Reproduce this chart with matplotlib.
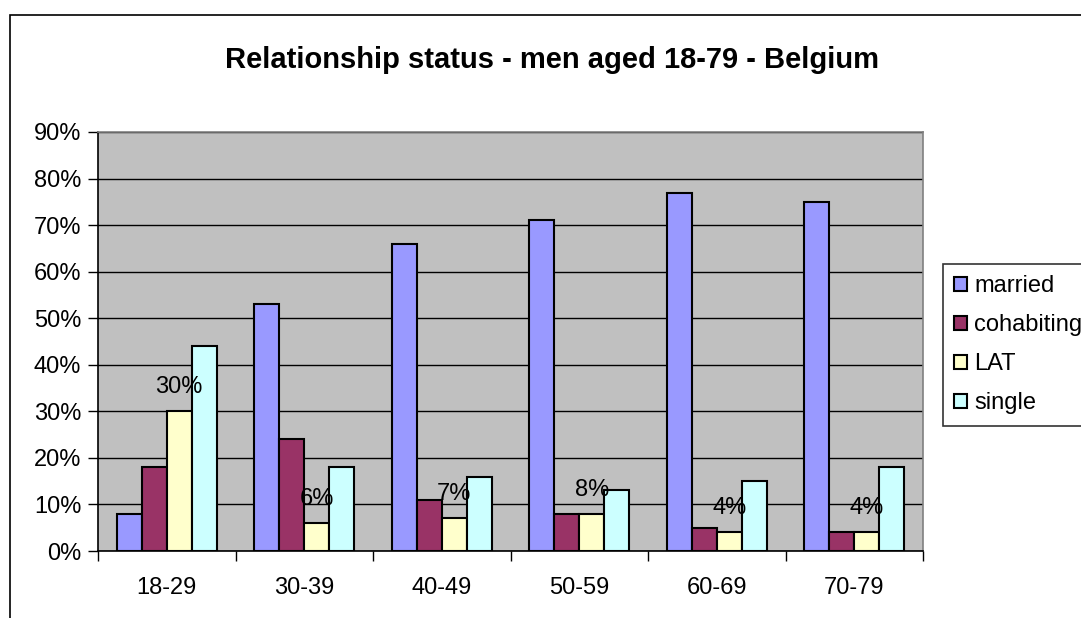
import numpy as np
import matplotlib
matplotlib.use('Agg')
from matplotlib import pyplot as plt
from matplotlib.patches import Rectangle

plt.rcParams['font.family'] = ['Liberation Sans', 'DejaVu Sans']

age_groups = ['18-29', '30-39', '40-49', '50-59', '60-69', '70-79']
married = [8, 53, 66, 71, 77, 75]
cohabiting = [18, 24, 11, 8, 5, 4]
lat = [30, 6, 7, 8, 4, 4]
single = [44, 18, 16, 13, 15, 18]

series = [('married', married, '#9999FF'),
          ('cohabiting', cohabiting, '#993366'),
          ('LAT', lat, '#FFFFCC'),
          ('single', single, '#CCFFFF')]

fig = plt.figure(figsize=(10.81, 6.18), dpi=100)
fig.patches.append(Rectangle((10 / 1081, -0.1), 1.2, 1 - 15 / 618 + 0.1,
                             transform=fig.transFigure, fill=False,
                             edgecolor='black', linewidth=1.2))

ax = fig.add_axes([98 / 1081, 1 - 551 / 618, 825 / 1081, 419 / 618])
ax.set_facecolor('#C0C0C0')

x = np.arange(len(age_groups))
width = 1 / 5.5
for i, (name, vals, color) in enumerate(series):
    ax.bar(x + (i - 1.5) * width, vals, width, color=color, edgecolor='black',
           linewidth=1.5, label=name, zorder=3)

# data labels on the LAT bars
for xi, v in zip(x, lat):
    ax.annotate(f'{v}%', (xi + 0.5 * width, v), xytext=(0, 13),
                textcoords='offset points', ha='center', va='baseline',
                fontsize=17, zorder=4)

ax.set_xlim(-0.5, len(age_groups) - 0.5)
ax.set_ylim(0, 90)
ax.set_yticks(range(0, 91, 10))
ax.set_yticklabels([f'{t}%' for t in range(0, 91, 10)], fontsize=17)
ax.yaxis.grid(True, color='black', linewidth=1, zorder=0)
ax.set_axisbelow(True)

ax.set_xticks(x)
ax.set_xticklabels(age_groups, fontsize=17)
ax.tick_params(axis='x', length=0, pad=19)
ax.set_xticks(np.arange(-0.5, len(age_groups)), minor=True)
ax.tick_params(axis='x', which='minor', length=7, width=1, color='black')
ax.tick_params(axis='y', length=7, width=1, pad=5)

ax.spines['left'].set_color('black')
ax.spines['bottom'].set_color('black')
ax.spines['top'].set_color('#808080')
ax.spines['right'].set_color('#808080')
for s in ax.spines.values():
    s.set_linewidth(1.2)

fig.text(552 / 1081, 1 - 60 / 618, 'Relationship status - men aged 18-79 - Belgium',
         ha='center', va='center', fontsize=21, fontweight='bold')

leg = ax.legend(loc='upper left', bbox_to_anchor=(943 / 1081, 1 - 264 / 618),
                bbox_transform=fig.transFigure, fontsize=17, frameon=True,
                fancybox=False, edgecolor='black', handlelength=0.55,
                handleheight=0.55, handletextpad=0.3, labelspacing=0.72,
                borderpad=0.48, borderaxespad=0)
leg.get_frame().set_linewidth(1.2)

plt.savefig('out.png', dpi=100)
